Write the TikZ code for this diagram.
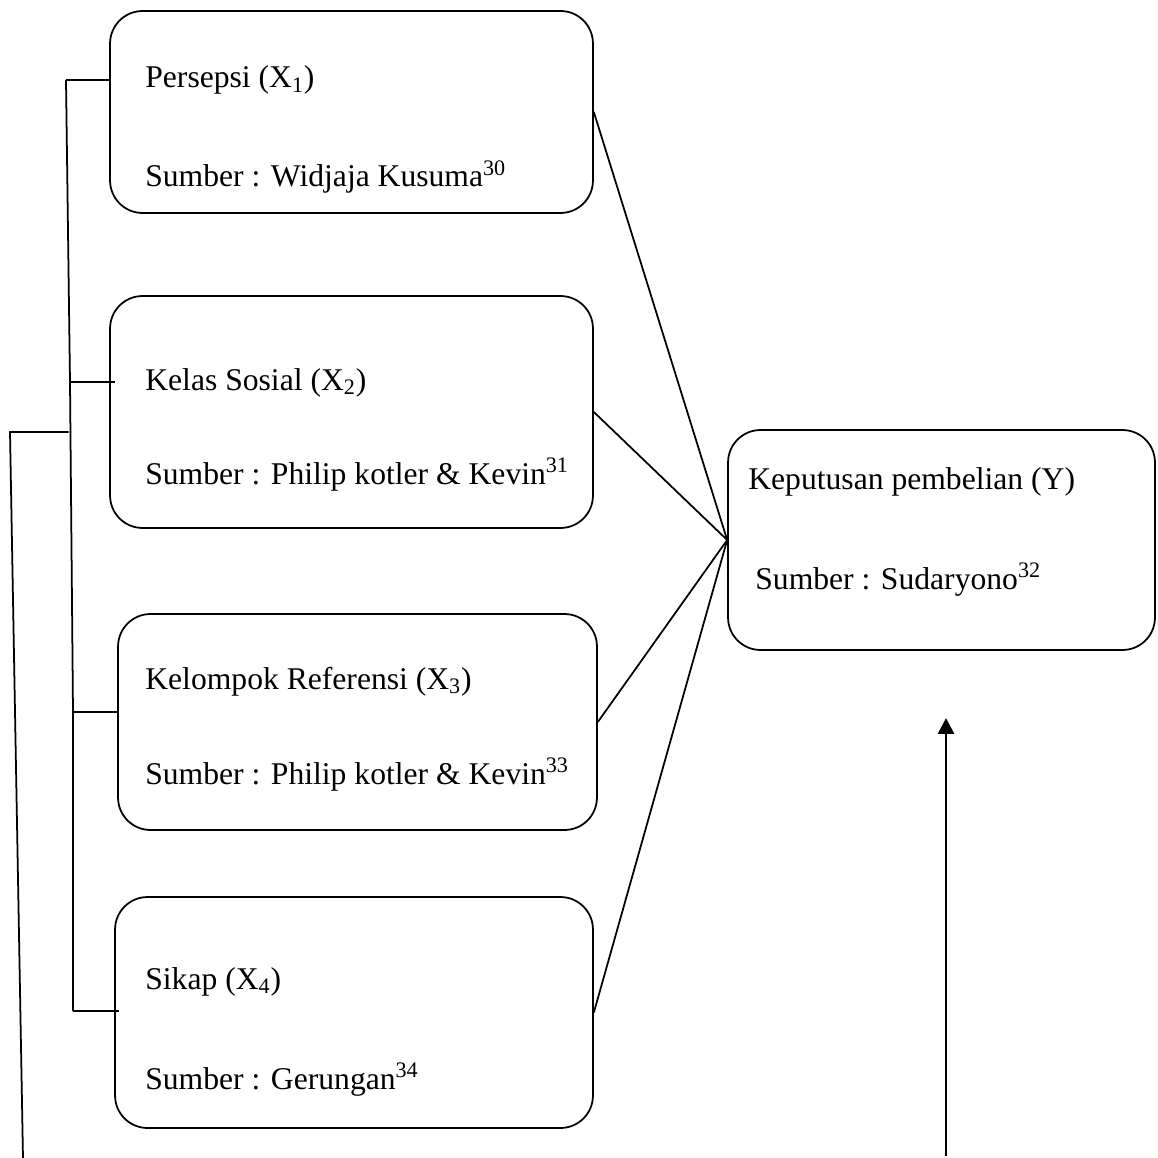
\documentclass[tikz,border=0pt]{standalone}
\usepackage{fontspec}
\setmainfont{Liberation Serif}
\usetikzlibrary{arrows.meta}
\tikzset{
  box/.style     = { draw, rounded corners=0.65cm, line width=1pt, inner sep=0pt },
  connect/.style = { line width=1pt },
  txt/.style     = { anchor=base west, inner sep=0pt, font=\fontsize{18}{22}\selectfont },
  up/.style      = { line width=1.6pt, -{Triangle[width=9pt,length=9pt]} }
}

\begin{document}
\begin{tikzpicture}[x=0.02cm, y=-0.02cm]
    \useasboundingbox (0,0) rectangle (1158,1158);

    \node[box, minimum width=9.66cm, minimum height=4.04cm] (x1) at (351.5,112)  {};
    \node[box, minimum width=9.66cm, minimum height=4.64cm] (x2) at (351.5,412)  {};
    \node[box, minimum width=9.58cm, minimum height=4.32cm] (x3) at (357.5,722)  {};
    \node[box, minimum width=9.56cm, minimum height=4.62cm] (x4) at (354,1012.5) {};
    \node[box, minimum width=8.54cm, minimum height=4.40cm] (y)  at (941.5,540)  {};

    \node[txt] (x1a) at (145,88)   {Persepsi (X\textsubscript{1})};
    \node[txt] (x1b) at (145,187)  {Sumber : Widjaja Kusuma\textsuperscript{30}};
    \node[txt] (x2a) at (145,390)  {Kelas Sosial (X\textsubscript{2})};
    \node[txt] (x2b) at (145,484)  {Sumber : Philip kotler \& Kevin\textsuperscript{31}};
    \node[txt] (x3a) at (145,689)  {Kelompok Referensi (X\textsubscript{3})};
    \node[txt] (x3b) at (145,784)  {Sumber : Philip kotler \& Kevin\textsuperscript{33}};
    \node[txt] (x4a) at (145,989)  {Sikap (X\textsubscript{4})};
    \node[txt] (x4b) at (145,1089) {Sumber : Gerungan\textsuperscript{34}};
    \node[txt] (ya)  at (748,489)  {Keputusan pembelian (Y)};
    \node[txt] (yb)  at (755,589)  {Sumber : Sudaryono\textsuperscript{32}};

    \draw[connect] (x1.east) -- (y.west);
    \draw[connect] (x2.east) -- (y.west);
    \draw[connect] (x3.east) -- (y.west);
    \draw[connect] (x4.east) -- (y.west);

    % left bracket
    \coordinate (b1) at (66,80);
    \coordinate (b2) at (70,382);
    \coordinate (b3) at (73,712);
    \coordinate (b4) at (73,1011);
    \draw[connect] (b1) -- (b2) -- (b3) -- (b4);
    \draw[connect] (b1) -- (b1 -| x1.west);
    \draw[connect] (b2) -- ([xshift=0.12cm]b2 -| x2.west);
    \draw[connect] (b3) -- (b3 -| x3.west);
    \draw[connect] (b4) -- ([xshift=0.1cm]b4 -| x4.west);

    \coordinate (o1) at (10,432);
    \coordinate (o2) at (23,1158);
    \draw[connect] (68.5,432) -- (o1) -- (o2);

    \coordinate (a0) at (946,1156);
    \coordinate (a1) at (946,718);
    \draw[up] (a0) -- (a1);
\end{tikzpicture}
\end{document}
